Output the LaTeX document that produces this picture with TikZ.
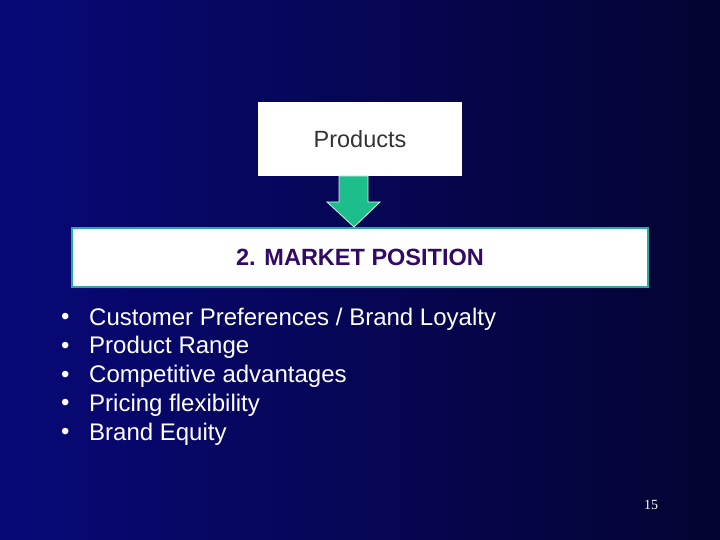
\documentclass[tikz,border=0pt]{standalone}
\usepackage{fontspec}
\setmainfont{Liberation Sans}
\newfontfamily\serifont{Liberation Serif}
\definecolor{bgL}{RGB}{8,8,120}
\definecolor{bgR}{RGB}{4,4,50}
\definecolor{arrowc}{RGB}{30,190,140}
\definecolor{tealb}{RGB}{40,170,160}
\definecolor{purp}{RGB}{50,10,100}
\begin{document}
\begin{tikzpicture}[x=1pt,y=-1pt,
  bul/.style={anchor=west,text=white,font=\fontsize{24}{28}\selectfont,inner sep=0pt}]
\useasboundingbox (0,0) rectangle (720,540);
\shade[left color=bgL,right color=bgR] (0,0) rectangle (720,540);
\node[fill=white,minimum width=204,minimum height=74,inner sep=0pt,text=black!80,font=\fontsize{23.5}{26}\selectfont] (prod) at (360,139) {Products};
\node[fill=white,draw=tealb,line width=1.5pt,minimum width=576,minimum height=59,inner sep=0pt,text=purp,font=\bfseries\fontsize{23.5}{26}\selectfont] (mp) at (360,257.5) {2. MARKET POSITION};
\draw[fill=arrowc,draw=white!80!arrowc,line width=0.8pt] (339,176) -- (368,176) -- (368,202) -- (380,202) -- (354,227) -- (327,202) -- (339,202) -- cycle;
\foreach \t [count=\i] in {Customer Preferences / Brand Loyalty,Product Range,Competitive advantages,Pricing flexibility,Brand Equity}{
  \node[bul] (b\i) at (61,{319+28.75*(\i-1)}) {•};
  \node[bul] (t\i) at (89,{319+28.75*(\i-1)}) {\t};
}
\node[text=white,font=\serifont\fontsize{14}{16}\selectfont] (pg) at (651,505) {15};
\end{tikzpicture}
\end{document}
